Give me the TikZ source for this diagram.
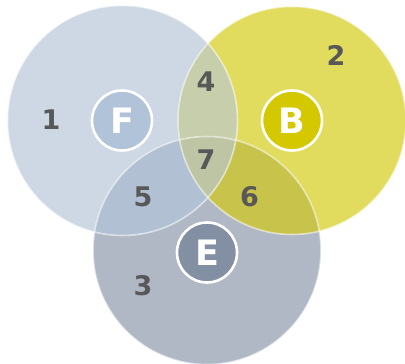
\documentclass[tikz,border=0pt]{standalone}
\usepackage{fontspec}
\setmainfont{DejaVu Sans}
\definecolor{colF}{HTML}{CED8E4}
\definecolor{colB}{HTML}{E2DC5E}
\definecolor{colE}{HTML}{B1B8C5}
\definecolor{colFB}{HTML}{C6CEAC}
\definecolor{colFE}{HTML}{B2C0D3}
\definecolor{colBE}{HTML}{C8C34B}
\definecolor{colFBE}{HTML}{BDC5A5}
\definecolor{smF}{HTML}{B1C3D8}
\definecolor{smB}{HTML}{D4C800}
\definecolor{smE}{HTML}{838FA2}
\definecolor{numgray}{HTML}{585858}
\begin{document}
\begin{tikzpicture}[x=1pt,y=-1pt,
  num/.style={font=\bfseries\fontsize{27}{27}\selectfont, text=numgray, inner sep=0pt},
  badge/.style={circle, draw=white, line width=2.6pt, minimum size=60pt, inner sep=0pt,
    text=white, font=\bfseries\fontsize{35}{35}\selectfont},
  rim/.style={draw=white, draw opacity=0.55, line width=1.6pt}]
\useasboundingbox (0,0) rectangle (405,364);
\coordinate (cF) at (122.5,120.5);
\coordinate (cB) at (292,120.5);
\coordinate (cE) at (207,250.5);
\def\rF{115}\def\rB{114}\def\rE{114}
% base circles
\fill[colF] (cF) circle (\rF);
\fill[colB] (cB) circle (\rB);
\fill[colE] (cE) circle (\rE);
% pairwise intersections
\begin{scope}\clip (cF) circle (\rF); \fill[colFB] (cB) circle (\rB); \end{scope}
\begin{scope}\clip (cF) circle (\rF); \fill[colFE] (cE) circle (\rE); \end{scope}
\begin{scope}\clip (cB) circle (\rB); \fill[colBE] (cE) circle (\rE); \end{scope}
\begin{scope}\clip (cF) circle (\rF); \clip (cB) circle (\rB); \fill[colFBE] (cE) circle (\rE); \end{scope}
% rims
\draw[rim] (cF) circle (\rF);
\draw[rim] (cB) circle (\rB);
\draw[rim] (cE) circle (\rE);
% badges
\node[badge, fill=smF] (F) at (122,120.5) {F};
\node[badge, fill=smB] (B) at (292,120.5) {B};
\node[badge, fill=smE] (E) at (207,252.5) {E};
% numbers
\node[num] (n1) at (51,120) {1};
\node[num] (n2) at (336,55) {2};
\node[num] (n3) at (143,285.5) {3};
\node[num] (n4) at (206,82) {4};
\node[num] (n5) at (143,197) {5};
\node[num] (n6) at (249.5,197) {6};
\node[num] (n7) at (206,159.5) {7};
\end{tikzpicture}
\end{document}
